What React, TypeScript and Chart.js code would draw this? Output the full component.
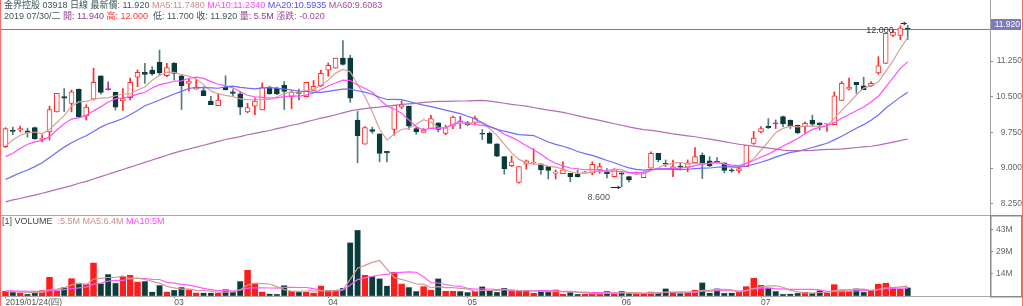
import React, { useEffect, useRef } from "react";
import { Chart, registerables } from "chart.js";

Chart.register(...registerables);

const FONT = '"Liberation Sans", Arial, "Noto Sans CJK TC", sans-serif';

// ---- data (2019/01/24 .. 2019/07/30, daily) ----
const xTickIndex = [0, 23, 44, 63, 84, 103];
const xTickLabels = ["2019/01/24(四)", "03", "04", "05", "06", "07"];

const opens = [
  9.45, 9.8, 9.8, 9.78, 9.85, 9.6, 9.76, 10.18, 10.5, 10.36,
  10.66, 10.1, 10.45, 10.94, 10.65, 10.59, 10.41, 10.48, 10.91, 11.01,
  11.06, 11.22, 10.94, 11.2, 10.94, 10.78, 10.66, 10.63, 10.41, 10.31,
  10.7, 10.6, 10.56, 10.18, 10.3, 10.22, 10.7, 10.68, 10.74, 10.5,
  10.6, 10.5, 10.63, 10.73, 11.06, 11.1, 11.31, 11.31, 10.01, 9.5,
  9.81, 9.72, 9.35, 9.81, 10.28, 10.3, 9.83, 9.75, 9.83, 9.95,
  9.73, 9.88, 9.97, 9.95, 9.95, 9.73, 9.73, 9.51, 9.24, 9.05,
  8.7, 9.08, 9.1, 9.09, 9.03, 8.89, 8.88, 8.89, 8.87, 8.89,
  8.89, 8.96, 8.92, 8.82, 8.9, 8.82, 8.88, 8.8, 9.0, 9.31,
  9.09, 9.01, 9.03, 9.02, 9.11, 9.27, 9.15, 9.14, 9.11, 8.95,
  8.94, 9.03, 9.52, 9.76, 9.88, 9.93, 10.08, 10.01, 9.9, 9.87,
  10.01, 9.95, 9.92, 9.91, 10.42, 10.66, 10.8, 10.73, 10.73, 11.0,
  11.2, 11.79, 11.79, 11.94,
];
const highs = [
  9.85, 9.86, 9.88, 9.84, 9.86, 9.7, 10.3, 10.57, 10.67, 10.64,
  10.66, 10.33, 11.1, 10.94, 10.81, 10.6, 10.67, 10.89, 11.06, 11.2,
  11.13, 11.48, 11.2, 11.22, 10.96, 10.87, 10.87, 10.71, 10.51, 10.56,
  10.94, 10.65, 10.61, 10.36, 10.47, 10.79, 10.72, 10.7, 10.82, 10.64,
  10.66, 10.8, 10.84, 11.06, 11.21, 11.31, 11.68, 11.37, 10.19, 9.87,
  9.86, 9.72, 9.35, 10.32, 10.41, 10.3, 9.87, 9.83, 10.11, 9.95,
  9.9, 10.09, 10.09, 9.98, 10.09, 9.81, 9.76, 9.51, 9.24, 9.25,
  9.03, 9.17, 9.41, 9.09, 9.03, 8.96, 9.13, 8.89, 8.96, 8.93,
  9.13, 9.1, 8.99, 8.99, 8.9, 8.83, 8.92, 8.92, 9.34, 9.31,
  9.17, 9.17, 9.1, 9.17, 9.43, 9.32, 9.24, 9.22, 9.11, 8.99,
  9.03, 9.48, 9.77, 9.87, 10.04, 10.01, 10.09, 10.01, 9.9, 9.97,
  10.11, 9.95, 9.94, 10.6, 10.82, 10.89, 10.8, 10.91, 10.82, 11.34,
  11.83, 11.9, 11.99, 12.0,
];
const lows = [
  9.43, 9.7, 9.76, 9.65, 9.6, 9.55, 9.59, 10.18, 10.19, 10.18,
  10.06, 10.01, 10.43, 10.56, 10.64, 10.22, 10.21, 10.43, 10.71, 10.78,
  10.95, 10.95, 10.92, 10.85, 10.23, 10.62, 10.66, 10.52, 10.33, 10.31,
  10.64, 10.5, 10.12, 10.16, 10.12, 10.22, 10.55, 10.54, 10.23, 10.25,
  10.43, 10.5, 10.63, 10.71, 10.93, 11.1, 11.16, 10.38, 9.11, 9.5,
  9.73, 9.13, 9.13, 9.69, 10.25, 9.81, 9.71, 9.75, 9.83, 9.76,
  9.7, 9.83, 9.83, 9.89, 9.93, 9.6, 9.52, 9.24, 8.87, 9.03,
  8.68, 8.98, 9.09, 8.87, 8.77, 8.77, 8.88, 8.71, 8.81, 8.88,
  8.86, 8.89, 8.79, 8.81, 8.6, 8.71, 8.86, 8.8, 9.0, 9.13,
  9.03, 8.82, 8.96, 8.92, 9.11, 8.78, 9.03, 9.1, 8.9, 8.91,
  8.9, 9.03, 9.5, 9.74, 9.83, 9.83, 9.87, 9.83, 9.72, 9.74,
  9.87, 9.8, 9.77, 9.91, 10.42, 10.64, 10.57, 10.65, 10.71, 10.97,
  11.2, 11.76, 11.7, 11.7,
];
const closes = [
  9.83, 9.77, 9.83, 9.75, 9.61, 9.63, 10.23, 10.57, 10.47, 10.6,
  10.08, 10.28, 10.8, 10.59, 10.65, 10.28, 10.46, 10.8, 11.01, 10.97,
  10.98, 11.0, 11.11, 10.99, 10.73, 10.83, 10.7, 10.52, 10.33, 10.43,
  10.65, 10.57, 10.28, 10.27, 10.41, 10.69, 10.56, 10.56, 10.61, 10.59,
  10.57, 10.8, 10.72, 10.99, 11.16, 11.31, 11.18, 10.47, 9.68, 9.85,
  9.77, 9.31, 9.32, 10.32, 10.33, 9.88, 9.76, 9.8, 10.04, 9.81,
  9.85, 10.07, 9.97, 9.91, 10.05, 9.71, 9.52, 9.25, 8.98, 9.13,
  9.03, 9.15, 9.11, 8.96, 8.95, 8.92, 8.96, 8.82, 8.82, 8.92,
  9.08, 9.03, 8.88, 8.97, 8.87, 8.75, 8.9, 8.9, 9.31, 9.17,
  9.08, 9.03, 9.02, 9.11, 9.24, 9.08, 9.05, 9.12, 8.95, 8.94,
  8.99, 9.48, 9.63, 9.83, 9.85, 9.93, 9.93, 9.87, 9.74, 9.94,
  9.92, 9.91, 9.93, 10.52, 10.78, 10.7, 10.75, 10.65, 10.78, 11.15,
  11.83, 11.86, 11.94, 11.92,
];
// volume in millions of shares
const volumes = [
  3.2, 2.6, 2.1, 1.3, 2.1, 3.6, 12.2, 3.4, 5.6, 11.4,
  8.6, 7.9, 21.7, 8.2, 14.2, 8.6, 12.9, 13.5, 9.2, 9.7,
  2.8, 7.1, 2.8, 3.9, 5.8, 3.9, 2.1, 2.1, 2.1, 2.1,
  4.3, 2.6, 9.7, 17.0, 8.2, 2.8, 1.5, 1.3, 6.9, 3.0,
  2.6, 2.6, 2.1, 6.7, 3.9, 3.4, 5.2, 35.0, 43.2, 13.5,
  12.9, 11.4, 6.7, 15.7, 7.9, 5.8, 3.2, 6.2, 3.9, 11.4,
  3.0, 3.2, 3.2, 2.4, 3.0, 6.2, 3.4, 2.6, 5.2, 3.0,
  3.2, 3.2, 1.7, 3.6, 2.8, 4.1, 1.3, 2.4, 1.3, 1.3,
  1.3, 1.7, 3.2, 1.3, 3.2, 1.7, 1.5, 1.3, 2.8, 2.1,
  4.9, 1.9, 1.7, 2.1, 3.9, 8.8, 2.1, 4.9, 1.9, 2.1,
  2.6, 6.2, 11.8, 6.9, 5.4, 3.2, 1.3, 1.5, 1.9, 2.6,
  1.9, 3.6, 2.1, 7.5, 4.1, 3.4, 4.9, 2.6, 3.2, 7.8,
  8.4, 5.8, 4.5, 5.5,
];

// moving-average values for the first days (window reaches before the shown range)
const ma5Head = [9.46, 9.59, 9.69, 9.74];
const ma10Head = [9.24, 9.31, 9.41, 9.5, 9.55, 9.58, 9.66, 9.8, 9.93];
const ma20Head = [
  8.76, 8.83, 8.9, 8.96, 9.03, 9.11, 9.22, 9.33, 9.44, 9.53,
  9.61, 9.68, 9.77, 9.86, 9.93, 9.98, 10.04, 10.12, 10.21,
];
const ma60Head = [
  8.29, 8.33, 8.36, 8.4, 8.43, 8.47, 8.51, 8.55, 8.59, 8.63,
  8.68, 8.72, 8.77, 8.82, 8.87, 8.92, 8.97, 9.02, 9.07, 9.12,
  9.17, 9.22, 9.27, 9.32, 9.36, 9.4, 9.44, 9.48, 9.52, 9.56,
  9.6, 9.63, 9.66, 9.7, 9.73, 9.76, 9.79, 9.83, 9.86, 9.9,
  9.93, 9.97, 10.01, 10.05, 10.08, 10.12, 10.16, 10.2, 10.23, 10.25,
  10.27, 10.28, 10.3, 10.32, 10.34, 10.35, 10.36, 10.38, 10.39,
];
const volMa5Head = [3.0, 2.8, 2.6, 2.4];
const volMa10Head = [3.4, 3.3, 3.2, 3.1, 3.0, 3.0, 3.5, 3.8, 4.2];

const priceTicks = [8.25, 9.0, 9.75, 10.5, 11.25];
const volTicks = [14.4, 28.8, 43.2];
const volTickLabels = ["14M", "29M", "43M"];

const lastPrice = 11.92;
const highMark = { index: 123, value: 12.0 };
const lowMark = { index: 84, value: 8.6 };

// ---- axis ranges ----
const X_MIN = -0.613;
const X_MAX = 134.22;
const P_MIN = 8.013;
const P_MAX = 12.091;
const V_MAX = 53;

// ---- colours ----
const UP = "#ff2b2b";
const DOWN = "#0a3a3a";
const DOWN_WICK = "#587878";
const FLAT = "#a03ca0";
const C_MA5 = "#d6a29a";
const C_MA10 = "#ff50ff";
const C_MA20 = "#6c6cff";
const C_MA60 = "#b46cb4";

function movingAverage(values: number[], period: number, head: number[]): number[] {
  return values.map((_, i) => {
    if (i < period - 1) return head[i];
    let s = 0;
    for (let k = i - period + 1; k <= i; k++) s += values[k];
    return s / period;
  });
}

const pts = (arr: number[]) => arr.map((v, i) => ({ x: i, y: v }));
const dir = closes.map((c, i) => (c > opens[i] ? 1 : c < opens[i] ? -1 : 0));

function lineDs(label: string, data: number[], color: string) {
  return {
    type: "line" as const,
    label,
    data: pts(data),
    borderColor: color,
    borderWidth: 1.2,
    pointRadius: 0,
    fill: false,
    tension: 0,
    order: 0,
  };
}

function drawArrow(ctx: CanvasRenderingContext2D, x0: number, x1: number, y: number) {
  ctx.beginPath();
  ctx.moveTo(x0, y);
  ctx.lineTo(x1, y);
  ctx.stroke();
  ctx.beginPath();
  ctx.moveTo(x1, y);
  ctx.lineTo(x1 - 3, y - 2);
  ctx.lineTo(x1 - 3, y + 2);
  ctx.closePath();
  ctx.fill();
}

const priceDecor = {
  id: "priceDecor",
  beforeDatasetsDraw(chart: any) {
    const { ctx, chartArea, scales } = chart;
    const py = Math.round(scales.y.getPixelForValue(lastPrice)) + 0.5;
    ctx.save();
    ctx.strokeStyle = "#6f6fff";
    ctx.lineWidth = 1;
    ctx.beginPath();
    ctx.moveTo(0, py);
    ctx.lineTo(chartArea.right, py);
    ctx.stroke();
    ctx.restore();
  },
  afterDatasetsDraw(chart: any) {
    const { ctx, scales } = chart;
    const xs = scales.x;
    const ys = scales.y;
    ctx.save();
    ctx.fillStyle = "#333";
    ctx.strokeStyle = "#222";
    ctx.lineWidth = 1;
    ctx.font = `9px ${FONT}`;
    // high marker
    const hx = xs.getPixelForValue(highMark.index);
    const hy = ys.getPixelForValue(highMark.value);
    ctx.textAlign = "right";
    ctx.textBaseline = "middle";
    ctx.fillText(highMark.value.toFixed(3), hx - 14, hy + 5);
    drawArrow(ctx, hx - 7, hx - 1, Math.round(hy) - 1.5);
    // low marker
    const lx = xs.getPixelForValue(lowMark.index);
    const ly = ys.getPixelForValue(lowMark.value);
    drawArrow(ctx, lx - 11, lx - 1, Math.round(ly) + 0.5);
    ctx.textAlign = "center";
    ctx.fillStyle = "#555";
    ctx.fillText(lowMark.value.toFixed(3), lx - 23, ly + 10);
    ctx.restore();
  },
  afterDraw(chart: any) {
    const { ctx, chartArea, scales, width, height } = chart;
    ctx.save();
    // axis separator
    ctx.strokeStyle = "#a0a0a0";
    ctx.lineWidth = 1;
    ctx.beginPath();
    ctx.moveTo(chartArea.right + 0.5, 0);
    ctx.lineTo(chartArea.right + 0.5, height);
    ctx.stroke();
    // last price tag
    const py = Math.round(scales.y.getPixelForValue(lastPrice));
    ctx.fillStyle = "#7c7cb8";
    ctx.fillRect(chartArea.right + 1, py - 10, 30, 11);
    ctx.fillStyle = "#ffffff";
    ctx.font = `8.5px ${FONT}`;
    ctx.textAlign = "right";
    ctx.textBaseline = "middle";
    ctx.fillText(lastPrice.toFixed(3), chartArea.right + 30, py - 4.5);
    // side borders
    ctx.strokeStyle = "#ff6a6a";
    ctx.beginPath();
    ctx.moveTo(0.5, 0);
    ctx.lineTo(0.5, height);
    ctx.moveTo(width - 1.5, 0);
    ctx.lineTo(width - 1.5, height);
    ctx.stroke();
    ctx.restore();
  },
};

const volDecor = {
  id: "volDecor",
  afterDraw(chart: any) {
    const { ctx, chartArea, width, height } = chart;
    ctx.save();
    ctx.strokeStyle = "#a8a8a8";
    ctx.lineWidth = 1;
    ctx.beginPath();
    ctx.moveTo(0, 0.5);
    ctx.lineTo(width - 2, 0.5);
    ctx.moveTo(0, chartArea.bottom + 0.5);
    ctx.lineTo(width - 2, chartArea.bottom + 0.5);
    ctx.stroke();
    // volume axis box
    ctx.strokeStyle = "#8a8a8a";
    ctx.lineWidth = 1.5;
    ctx.strokeRect(chartArea.right + 0.75, 0.75, width - chartArea.right - 3, chartArea.bottom);
    // side borders
    ctx.lineWidth = 1;
    ctx.strokeStyle = "#ff6a6a";
    ctx.beginPath();
    ctx.moveTo(0.5, 0);
    ctx.lineTo(0.5, height);
    ctx.moveTo(width - 1.5, 0);
    ctx.lineTo(width - 1.5, height);
    ctx.stroke();
    ctx.restore();
  },
};

export default function App() {
  const priceRef = useRef<HTMLCanvasElement>(null);
  const volRef = useRef<HTMLCanvasElement>(null);

  useEffect(() => {
    Chart.defaults.font.family = FONT;
    const ma5 = movingAverage(closes, 5, ma5Head);
    const ma10 = movingAverage(closes, 10, ma10Head);
    const ma20 = movingAverage(closes, 20, ma20Head);
    const ma60 = movingAverage(closes, 60, ma60Head);
    const vma5 = movingAverage(volumes, 5, volMa5Head);
    const vma10 = movingAverage(volumes, 10, volMa10Head);

    const priceChart = new Chart(priceRef.current as HTMLCanvasElement, {
      type: "bar",
      data: {
        datasets: [
          lineDs("MA60", ma60, C_MA60),
          lineDs("MA20", ma20, C_MA20),
          lineDs("MA10", ma10, C_MA10),
          lineDs("MA5", ma5, C_MA5),
          {
            type: "bar",
            label: "body",
            data: closes.map((c, i) => ({ x: i, y: [opens[i], c] })),
            backgroundColor: dir.map((d) => (d > 0 ? "#ffffff" : d < 0 ? DOWN : FLAT)),
            borderColor: dir.map((d) => (d > 0 ? UP : d < 0 ? DOWN : FLAT)),
            borderWidth: 1,
            borderSkipped: false,
            barThickness: 5,
            minBarLength: 1,
            grouped: false,
            order: 1,
          },
          {
            type: "bar",
            label: "wick",
            data: highs.map((h, i) => ({ x: i, y: [lows[i], h] })),
            backgroundColor: dir.map((d) => (d > 0 ? UP : d < 0 ? DOWN_WICK : FLAT)),
            borderWidth: 0,
            barThickness: 1,
            grouped: false,
            order: 2,
          },
        ] as any,
      },
      options: {
        responsive: false,
        devicePixelRatio: 1,
        animation: false,
        events: [],
        layout: { padding: { top: 21, left: 1, right: 2, bottom: 0 } },
        plugins: { legend: { display: false }, tooltip: { enabled: false } },
        scales: {
          x: {
            type: "linear",
            min: X_MIN,
            max: X_MAX,
            offset: false,
            display: false,
            grid: { offset: false },
          },
          y: {
            type: "linear",
            position: "right",
            min: P_MIN,
            max: P_MAX,
            afterBuildTicks: (s: any) => {
              s.ticks = priceTicks.map((v) => ({ value: v }));
            },
            afterFit: (s: any) => {
              s.width = 32;
              s.paddingTop = 0;
              s.paddingBottom = 0;
            },
            ticks: {
              callback: (v: any) => Number(v).toFixed(3),
              font: { size: 8.5, family: FONT },
              color: "#666",
              crossAlign: "far",
              padding: 1,
            },
            grid: { drawOnChartArea: false, drawTicks: true, tickLength: 3, color: "#888" },
            border: { display: false },
          },
        },
      } as any,
      plugins: [priceDecor],
    });

    const volChart = new Chart(volRef.current as HTMLCanvasElement, {
      type: "bar",
      data: {
        datasets: [
          lineDs("MA5", vma5, "#d29a96"),
          lineDs("MA10", vma10, "#ff5cff"),
          {
            type: "bar",
            label: "VOLUME",
            data: pts(volumes),
            backgroundColor: dir.map((d) => (d > 0 ? "#ff1c1c" : "#0b3b3b")),
            borderColor: dir.map((d) => (d > 0 ? "#ff1c1c" : "#9fb2b2")),
            borderWidth: 0.6,
            borderSkipped: false,
            barThickness: 6,
            grouped: false,
            order: 1,
          },
        ] as any,
      },
      options: {
        responsive: false,
        devicePixelRatio: 1,
        animation: false,
        events: [],
        layout: { padding: { top: 0, left: 1, right: 2, bottom: 0 } },
        plugins: { legend: { display: false }, tooltip: { enabled: false } },
        scales: {
          x: {
            type: "linear",
            min: X_MIN,
            max: X_MAX,
            offset: false,
            position: "bottom",
            afterBuildTicks: (s: any) => {
              s.ticks = xTickIndex.map((v) => ({ value: v }));
            },
            afterFit: (s: any) => {
              s.height = 10;
              s.paddingLeft = 0;
              s.paddingRight = 0;
            },
            ticks: {
              callback: (v: any) => {
                const k = xTickIndex.indexOf(Number(v));
                return k >= 0 ? xTickLabels[k] : "";
              },
              align: "start",
              autoSkip: false,
              maxRotation: 0,
              minRotation: 0,
              font: { size: 8.5, family: FONT },
              color: "#555",
              padding: 0,
            },
            grid: { drawOnChartArea: false, drawTicks: true, tickLength: 2, color: "#777", offset: false },
            border: { display: false },
          },
          y: {
            type: "linear",
            position: "right",
            min: 0,
            max: V_MAX,
            afterBuildTicks: (s: any) => {
              s.ticks = volTicks.map((v) => ({ value: v }));
            },
            afterFit: (s: any) => {
              s.width = 32;
              s.paddingTop = 0;
              s.paddingBottom = 0;
            },
            ticks: {
              callback: (v: any) => {
                const k = volTicks.indexOf(Number(v));
                return k >= 0 ? volTickLabels[k] : "";
              },
              font: { size: 8.5, family: FONT },
              color: "#666",
              padding: 3,
            },
            grid: { drawOnChartArea: false, drawTicks: true, tickLength: 3, color: "#888" },
            border: { display: false },
          },
        },
      } as any,
      plugins: [volDecor],
    });

    return () => {
      priceChart.destroy();
      volChart.destroy();
    };
  }, []);

  const textBase: React.CSSProperties = {
    position: "absolute",
    left: 4,
    fontFamily: FONT,
    fontSize: 9,
    lineHeight: "11px",
    whiteSpace: "pre",
  };

  return (
    <div
      style={{
        position: "fixed",
        left: 0,
        top: 0,
        width: 1024,
        height: 306,
        background: "#ffffff",
        overflow: "hidden",
      }}
    >
      <canvas ref={priceRef} width={1024} height={215} style={{ position: "absolute", left: 0, top: 0 }} />
      <canvas ref={volRef} width={1024} height={91} style={{ position: "absolute", left: 0, top: 215 }} />
      <div style={{ ...textBase, top: 0 }}>
        <span style={{ color: "#3d5757" }}>金界控股 03918 日線 最新價: 11.920 </span>
        <span style={{ color: "#cc8c8c" }}>MA5:11.7480 </span>
        <span style={{ color: "#ff44ff" }}>MA10:11.2340 </span>
        <span style={{ color: "#4d4dff" }}>MA20:10.5935 </span>
        <span style={{ color: "#a04ca0" }}>MA60:9.6083</span>
      </div>
      <div style={{ ...textBase, top: 11 }}>
        <span style={{ color: "#3d5757" }}>2019 07/30/二 </span>
        <span style={{ color: "#8b3a8b" }}>開: 11.940 </span>
        <span style={{ color: "#ff3333" }}>高: 12.000 </span>
        <span style={{ color: "#3d5757" }}> 低: 11.700 </span>
        <span style={{ color: "#3d5757" }}>收: 11.920 </span>
        <span style={{ color: "#8b3a8b" }}>量: 5.5M </span>
        <span style={{ color: "#a34aa3" }}>漲跌: -0.020</span>
      </div>
      <div style={{ ...textBase, left: 2, top: 216 }}>
        <span style={{ color: "#444" }}>[1] VOLUME  </span>
        <span style={{ color: "#cc8c8c" }}>:5.5M MA5:6.4M </span>
        <span style={{ color: "#ff44ff" }}>MA10:5M</span>
      </div>
    </div>
  );
}
